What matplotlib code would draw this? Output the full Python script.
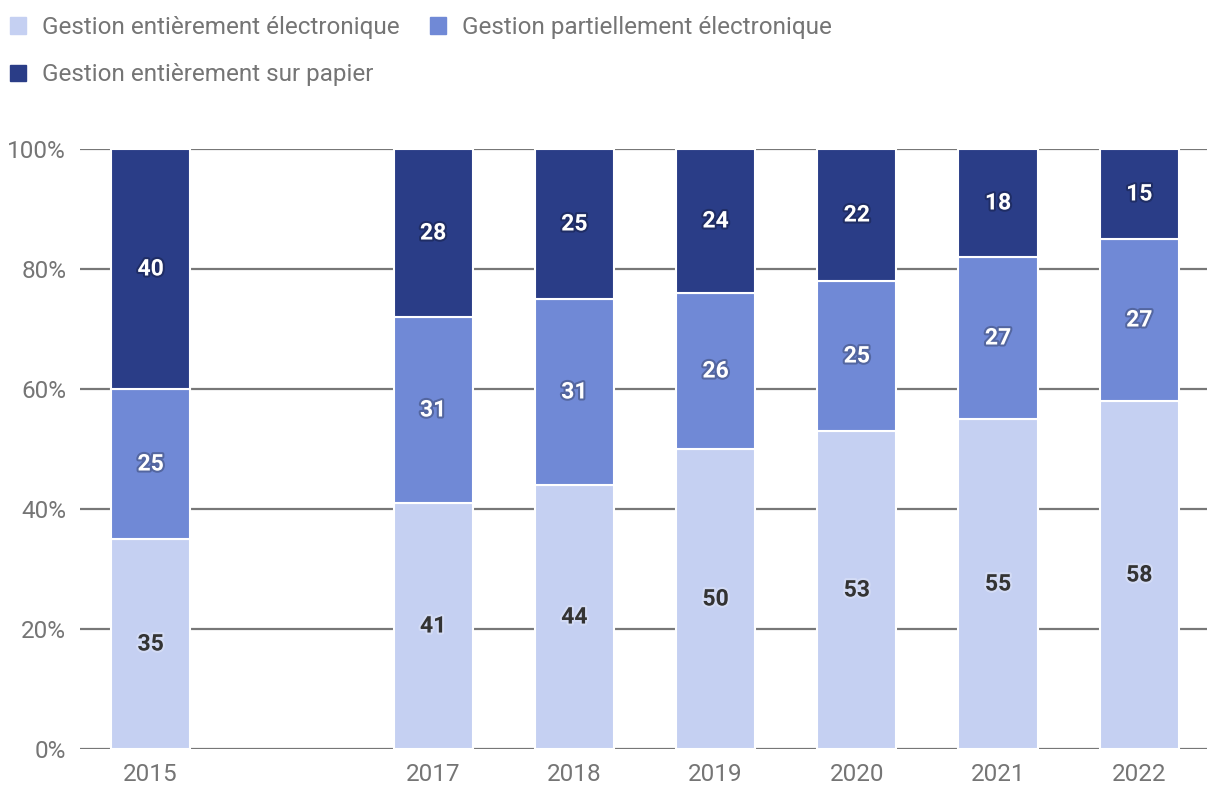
import matplotlib.pyplot as plt
import matplotlib.patheffects as pe
from matplotlib.patches import Patch
from matplotlib.ticker import FuncFormatter

plt.rcParams['font.family'] = ['Roboto', 'DejaVu Sans']

years = [2015, 2017, 2018, 2019, 2020, 2021, 2022]
tout_elec = [35, 41, 44, 50, 53, 55, 58]
partiel_elec = [25, 31, 31, 26, 25, 27, 27]
tout_papier = [40, 28, 25, 24, 22, 18, 15]

series_names = ['Gestion entièrement électronique',
                'Gestion partiellement électronique',
                'Gestion entièrement sur papier']
colors = ['#c5d0f2', '#7089d6', '#2a3d87']
label_colors = ['#333333', 'white', 'white']

fig = plt.figure(figsize=(12.2, 8.06), dpi=100)
ax = fig.add_axes([0.0656, 0.0707, 0.9238, 0.7445])

bottom = [0] * len(years)
for vals, col, lc in zip([tout_elec, partiel_elec, tout_papier], colors, label_colors):
    bars = ax.bar(years, vals, width=0.56, bottom=bottom, color=col,
                  edgecolor='white', linewidth=1.5, zorder=3)
    for b, v, bt in zip(bars, vals, bottom):
        glow = '#000000' if lc == 'white' else '#ffffff'
        ax.text(b.get_x() + b.get_width() / 2, bt + v / 2, str(v),
                ha='center', va='center', fontsize=16.5, fontweight='bold',
                color=lc, zorder=4,
                path_effects=[pe.withStroke(linewidth=3, foreground=glow, alpha=0.25)])
    bottom = [a + b for a, b in zip(bottom, vals)]

ax.set_xlim(2014.5, 2022.48)
ax.set_ylim(0, 100)
ax.set_xticks(years)
ax.set_yticks([0, 20, 40, 60, 80, 100])
ax.yaxis.set_major_formatter(FuncFormatter(lambda v, p: f'{int(v)}%'))
ax.grid(axis='y', color='#777777', linewidth=1.6, zorder=0)
ax.set_axisbelow(True)
for s in ax.spines.values():
    s.set_visible(False)
ax.tick_params(length=0, labelsize=17.5, colors='#757575', pad=10)

handles = [Patch(color=c) for c in colors]
order = [0, 2, 1]
fig.legend([handles[i] for i in order], [series_names[i] for i in order],
           ncol=2, loc='upper left', bbox_to_anchor=(0.0, 0.9926), frameon=False,
           fontsize=17.5, labelcolor='#757575', handlelength=0.66, handleheight=0.66,
           handletextpad=0.66, columnspacing=1.25, labelspacing=1.0, borderaxespad=0.0,
           borderpad=0.42)

fig.savefig('out.png', dpi=100)
